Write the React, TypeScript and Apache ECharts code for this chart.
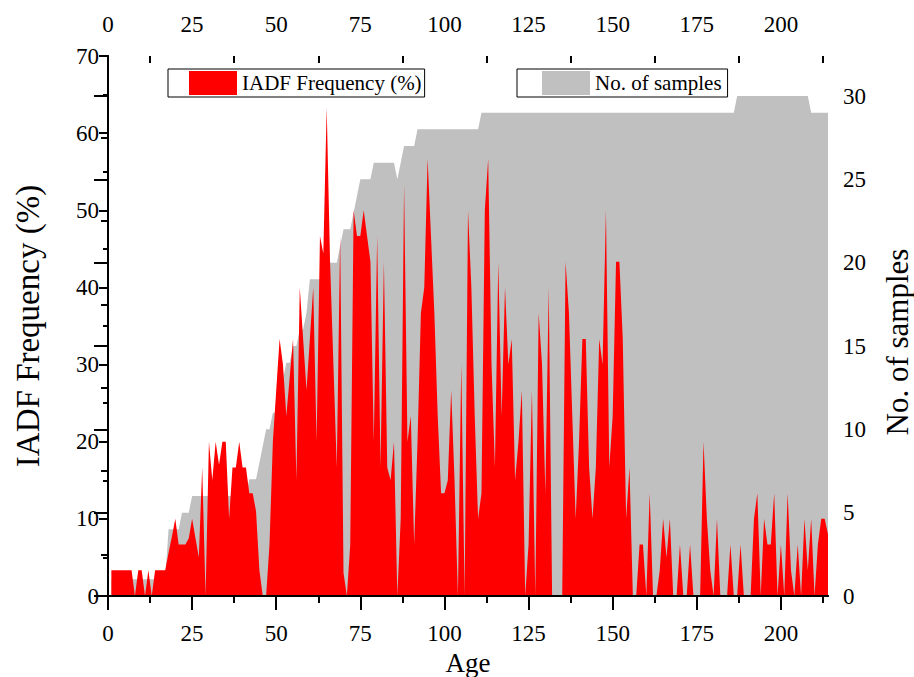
import React, { useEffect, useRef } from "react";
import * as echarts from "echarts";

// Ages run from START_AGE upward in steps of one year
const START_AGE = 1;

// IADF frequency (%) per age, ages 1..214
const iadfFrequency = [
  3.33, 3.33, 3.33, 3.33, 3.33, 3.33, 3.33, 0, 3.33, 3.33,
  0, 3.33, 0, 3.33, 3.33, 3.33, 3.33, 5.6, 7.7, 10,
  6.67, 6.67, 6.67, 7.5, 10, 7.5, 5, 16.67, 0, 20,
  15, 20, 17, 20, 20, 10, 16.67, 16.67, 20, 16.67,
  16.67, 13.33, 13.33, 11, 3.33, 0, 0, 6.67, 20, 26.67,
  33.33, 30, 23.33, 28.33, 33.33, 15, 40, 33.33, 26.67, 33.33,
  40, 20, 46.67, 44.4, 63.33, 43.33, 30, 16.67, 46.67, 3,
  0, 6.67, 50, 46.67, 46.67, 50, 46.67, 43.33, 20, 46.67,
  16.67, 43.33, 16.67, 15, 20, 0, 10, 53.33, 20, 23.33,
  6.67, 20, 36.67, 40, 56.67, 46.67, 36.67, 23.33, 13.33, 13.33,
  15, 26.67, 15, 0, 30, 0, 50, 40, 23.33, 10,
  13.33, 50, 56.67, 30, 16.67, 43.33, 23.33, 40, 30, 33.33,
  15, 20, 26.67, 0, 6.67, 26.67, 0, 36.67, 30, 13.33,
  40, 0, 0, 0, 0, 43.33, 36.67, 23.33, 10, 20,
  33.33, 33.33, 16.67, 10, 16.67, 33.33, 30, 50, 16.67, 23.33,
  43.33, 43.33, 33.33, 10, 16.67, 0, 0, 6.67, 6.67, 0,
  13.33, 0, 0, 3.33, 10, 5, 10, 0, 0, 6.67,
  0, 0, 6.67, 0, 0, 0, 20, 10, 3.33, 0,
  10, 0, 0, 0, 6.67, 0, 0, 6.67, 0, 0,
  0, 10, 13.33, 0, 10, 6.67, 6.67, 13.33, 0, 6.67,
  0, 13.33, 3.33, 0, 6.67, 0, 10, 3.33, 10, 0,
  6.67, 10, 10, 8,
];

// Number of samples per age, ages 1..214
const sampleCount = [
  1, 1, 1, 1, 1, 1, 1, 1, 1, 1,
  1, 1, 1, 1, 1, 1, 1, 4, 4, 4,
  4, 5, 5, 5, 6, 6, 6, 6, 6, 6,
  6, 6, 6, 6, 6, 6, 6, 6, 6, 6,
  6, 7, 7, 7, 8, 9, 10, 10, 11, 11,
  12, 13, 14, 14, 15, 15, 16, 16, 17, 19,
  19, 19, 19, 19, 20, 20, 20, 20, 21, 22,
  22, 22, 23, 24, 25, 25, 25, 25, 26, 26,
  26, 26, 26, 26, 26, 25, 26, 27, 27, 27,
  27, 28, 28, 28, 28, 28, 28, 28, 28, 28,
  28, 28, 28, 28, 28, 28, 28, 28, 28, 28,
  29, 29, 29, 29, 29, 29, 29, 29, 29, 29,
  29, 29, 29, 29, 29, 29, 29, 29, 29, 29,
  29, 29, 29, 29, 29, 29, 29, 29, 29, 29,
  29, 29, 29, 29, 29, 29, 29, 29, 29, 29,
  29, 29, 29, 29, 29, 29, 29, 29, 29, 29,
  29, 29, 29, 29, 29, 29, 29, 29, 29, 29,
  29, 29, 29, 29, 29, 29, 29, 29, 29, 29,
  29, 29, 29, 29, 29, 29, 30, 30, 30, 30,
  30, 30, 30, 30, 30, 30, 30, 30, 30, 30,
  30, 30, 30, 30, 30, 30, 30, 30, 29, 29,
  29, 29, 29, 29,
];

const xMajorTicks = [0, 25, 50, 75, 100, 125, 150, 175, 200];
const xMinorTicks = [12.5, 37.5, 62.5, 87.5, 112.5, 137.5, 162.5, 187.5, 212.5];
const rightMajorTicks = [0, 5, 10, 15, 20, 25, 30];
const rightMinorTicks = [2.5, 7.5, 12.5, 17.5, 22.5, 27.5];

const X_MAX = 214;
const LEFT_MAX = 70;
const RIGHT_MAX = 32.4;

const FONT = '"Liberation Serif", "Times New Roman", serif';
const BLACK = "#000000";
const RED = "#ff0000";
const GREY = "#c0c0c0";

export default function App() {
  const ref = useRef<HTMLDivElement>(null);

  useEffect(() => {
    if (!ref.current) return;
    const chart = echarts.init(ref.current, undefined, { renderer: "svg" });

    const redData = iadfFrequency.map((v, i) => [START_AGE + i, v]);
    const greyData = sampleCount.map((v, i) => [START_AGE + i, v]);

    const line = { show: true, lineStyle: { color: BLACK, width: 2 } };
    const label = { color: BLACK, fontSize: 23, fontFamily: FONT };

    const xBase = {
      type: "value",
      min: 0,
      max: X_MAX,
      splitLine: { show: false },
      z: 10,
    };
    const yRightBase = {
      type: "value",
      min: 0,
      max: RIGHT_MAX,
      position: "right",
      splitLine: { show: false },
      z: 10,
    };

    chart.setOption({
      animation: false,
      backgroundColor: "#ffffff",
      textStyle: { fontFamily: FONT },
      grid: {
        left: 108,
        right: 86,
        top: 56,
        bottom: 81,
        containLabel: false,
        outerBoundsMode: "none",
      },
      legend: [
        {
          data: [{ name: "IADF Frequency (%)", icon: "rect" }],
          left: 168,
          top: 69,
          itemWidth: 48,
          itemHeight: 24,
          padding: [2, 3, 2, 21],
          borderColor: BLACK,
          borderWidth: 1,
          backgroundColor: "#ffffff",
          selectedMode: false,
          textStyle: { color: BLACK, fontSize: 21, fontFamily: FONT },
        },
        {
          data: [{ name: "No. of samples", icon: "rect" }],
          left: 517,
          top: 69,
          itemWidth: 48,
          itemHeight: 24,
          padding: [2, 6, 2, 25],
          borderColor: BLACK,
          borderWidth: 1,
          backgroundColor: "#ffffff",
          selectedMode: false,
          textStyle: { color: BLACK, fontSize: 21, fontFamily: FONT },
        },
      ],
      graphic: [
        {
          type: "text",
          x: 897,
          y: 342,
          rotation: Math.PI / 2,
          style: {
            text: "No. of samples",
            fill: BLACK,
            font: `31px ${FONT}`,
            textAlign: "center",
            textVerticalAlign: "middle",
          },
        },
      ],
      xAxis: [
        {
          ...xBase,
          position: "bottom",
          axisLine: line,
          axisTick: { show: true, inside: false, length: 14, customValues: xMajorTicks, lineStyle: { color: BLACK, width: 2 } },
          axisLabel: { ...label, margin: 26, customValues: xMajorTicks },
          name: "Age",
          nameLocation: "middle",
          nameGap: 52,
          nameTextStyle: { color: BLACK, fontSize: 27, fontFamily: FONT },
        },
        {
          ...xBase,
          position: "bottom",
          axisLine: { show: false },
          axisTick: { show: true, inside: false, length: 7, customValues: xMinorTicks, lineStyle: { color: BLACK, width: 2 } },
          axisLabel: { show: false },
        },
        {
          ...xBase,
          position: "top",
          axisLine: line,
          axisTick: { show: true, inside: true, length: 14, customValues: xMajorTicks, lineStyle: { color: BLACK, width: 2 } },
          axisLabel: { ...label, margin: 20, customValues: xMajorTicks },
        },
        {
          ...xBase,
          position: "top",
          axisLine: { show: false },
          axisTick: { show: true, inside: true, length: 7, customValues: xMinorTicks, lineStyle: { color: BLACK, width: 2 } },
          axisLabel: { show: false },
        },
      ],
      yAxis: [
        {
          type: "value",
          min: 0,
          max: LEFT_MAX,
          interval: 10,
          position: "left",
          splitLine: { show: false },
          z: 10,
          axisLine: line,
          axisTick: { show: true, inside: false, length: 9, lineStyle: { color: BLACK, width: 2 } },
          minorTick: { show: true, splitNumber: 2, length: 5, lineStyle: { color: BLACK, width: 2 } },
          minorSplitLine: { show: false },
          axisLabel: { ...label, margin: 9 },
          name: "IADF Frequency (%)",
          nameLocation: "middle",
          nameRotate: 90,
          nameGap: 64,
          nameTextStyle: { color: BLACK, fontSize: 33, fontFamily: FONT },
        },
        {
          ...yRightBase,
          axisLine: line,
          axisTick: { show: true, inside: true, length: 14, customValues: rightMajorTicks, lineStyle: { color: BLACK, width: 2 } },
          axisLabel: { ...label, margin: 15, customValues: rightMajorTicks },
        },
        {
          ...yRightBase,
          axisLine: { show: false },
          axisTick: { show: true, inside: true, length: 7, customValues: rightMinorTicks, lineStyle: { color: BLACK, width: 2 } },
          axisLabel: { show: false },
        },
      ],
      series: [
        {
          name: "No. of samples",
          type: "line",
          xAxisIndex: 0,
          yAxisIndex: 1,
          data: greyData,
          symbol: "none",
          showSymbol: false,
          lineStyle: { width: 0, color: GREY },
          itemStyle: { color: GREY },
          areaStyle: { color: GREY, opacity: 1 },
          z: 1,
        },
        {
          name: "IADF Frequency (%)",
          type: "line",
          xAxisIndex: 0,
          yAxisIndex: 0,
          data: redData,
          symbol: "none",
          showSymbol: false,
          lineStyle: { width: 0, color: RED },
          itemStyle: { color: RED },
          areaStyle: { color: RED, opacity: 1 },
          z: 2,
        },
      ],
    });

    return () => chart.dispose();
  }, []);

  return (
    <div
      ref={ref}
      style={{ position: "fixed", left: 0, top: 0, width: 914, height: 677, background: "#fff" }}
    />
  );
}
